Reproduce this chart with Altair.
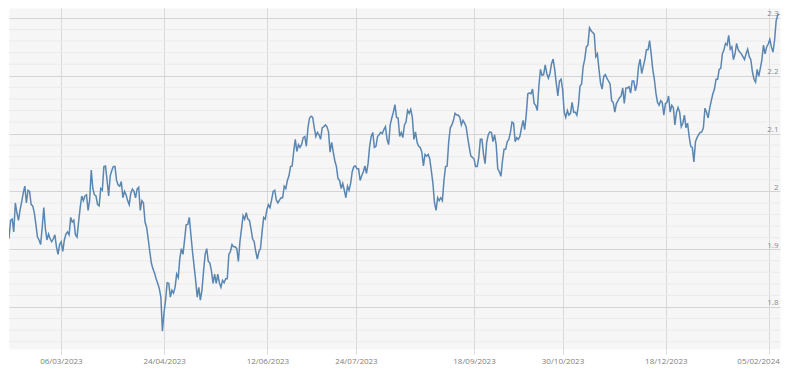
import altair as alt
import pandas as pd

# Daily values, in chronological pieces
feb_mar_2023 = [
    1.918, 1.950, 1.952, 1.930, 1.980, 1.963, 1.950, 1.968, 1.982, 1.997,
    2.009, 1.980, 2.002, 2.000, 1.977, 1.975, 1.963, 1.943, 1.921, 1.916,
    1.908, 1.938, 1.972, 1.935, 1.916, 1.926, 1.918, 1.913, 1.918, 1.925,
    1.904, 1.891, 1.908, 1.913, 1.896, 1.916, 1.926, 1.930, 1.925, 1.955,
    1.947, 1.950, 1.925, 1.921, 1.947, 1.972, 1.992, 1.984, 1.992, 1.994,
    1.967, 1.985, 2.037, 2.005, 1.994, 1.992, 1.977, 1.975, 2.005, 2.002,
    2.043, 2.044, 2.019, 1.992, 2.027, 2.036, 2.043,
]
apr_may_2023 = [
    2.043, 2.019, 2.011, 2.009, 2.017, 1.989, 2.000, 1.994, 1.984, 1.977,
    1.997, 2.004, 2.000, 1.989, 2.004, 2.007, 1.967, 1.984, 1.980, 1.947,
    1.938, 1.918, 1.896, 1.876, 1.866, 1.859, 1.849, 1.841, 1.832, 1.817,
    1.758, 1.790, 1.812, 1.842, 1.841, 1.817, 1.829, 1.824, 1.834, 1.857,
    1.851, 1.884, 1.901, 1.891, 1.916, 1.942, 1.943, 1.955, 1.925, 1.896,
    1.871, 1.846, 1.817, 1.834, 1.812, 1.829, 1.862, 1.891, 1.901, 1.879,
    1.876, 1.862, 1.841, 1.857, 1.841, 1.857, 1.842, 1.834, 1.846, 1.842,
    1.849, 1.849,
]
may_jul_2023 = [
    1.891, 1.896, 1.908, 1.904, 1.904, 1.901, 1.879, 1.913, 1.935, 1.958,
    1.952, 1.963, 1.952, 1.950, 1.935, 1.918, 1.913, 1.896, 1.883, 1.896,
    1.901, 1.930, 1.955, 1.952, 1.968, 1.977, 1.972, 1.985, 2.000, 2.002,
    1.985, 1.980, 1.985, 1.989, 1.989, 2.009, 2.005, 2.019, 2.027, 2.043,
    2.044, 2.069, 2.090, 2.069, 2.081, 2.076, 2.081, 2.093, 2.095, 2.078,
    2.110, 2.127, 2.130, 2.128, 2.110, 2.095, 2.102, 2.098, 2.090, 2.110,
    2.112, 2.115, 2.112, 2.103, 2.068, 2.085, 2.068, 2.053,
]
jul_sep_2023 = [
    2.043, 2.022, 2.019, 2.005, 2.014, 2.002, 1.989, 2.009, 2.002, 2.014,
    2.034, 2.043, 2.044, 2.039, 2.039, 2.019, 2.027, 2.034, 2.044, 2.031,
    2.048, 2.078, 2.095, 2.102, 2.076, 2.078, 2.095, 2.098, 2.102, 2.100,
    2.107, 2.112, 2.090, 2.081, 2.115, 2.127, 2.137, 2.150, 2.128, 2.127,
    2.095, 2.102, 2.093, 2.115, 2.120, 2.140, 2.135, 2.142, 2.128, 2.090,
    2.103, 2.085, 2.078, 2.076, 2.068, 2.044, 2.064, 2.061, 2.064, 2.056,
    2.036, 2.014, 1.980, 1.967, 1.989, 1.984, 1.989, 1.984,
]
sep_oct_2023 = [
    2.019, 2.043, 2.044, 2.086, 2.110, 2.115, 2.123, 2.135, 2.132, 2.132,
    2.128, 2.115, 2.123, 2.118, 2.112, 2.093, 2.076, 2.061, 2.059, 2.056,
    2.043, 2.043, 2.059, 2.090, 2.090, 2.064, 2.048, 2.085, 2.098, 2.103,
    2.102, 2.086, 2.098, 2.081, 2.039, 2.034, 2.026, 2.053, 2.073, 2.073,
    2.086, 2.090, 2.102, 2.120, 2.118, 2.086, 2.093, 2.090, 2.095, 2.110,
    2.123, 2.107, 2.132, 2.169, 2.170, 2.169, 2.177, 2.152, 2.149, 2.140,
    2.182, 2.211, 2.201, 2.202, 2.219, 2.204, 2.196,
]
nov_dec_2023 = [
    2.204, 2.221, 2.229, 2.211, 2.187, 2.165, 2.191, 2.194, 2.177, 2.137,
    2.128, 2.140, 2.132, 2.135, 2.154, 2.137, 2.137, 2.132, 2.149, 2.182,
    2.186, 2.216, 2.229, 2.250, 2.253, 2.283, 2.278, 2.275, 2.272, 2.233,
    2.238, 2.211, 2.187, 2.177, 2.199, 2.202, 2.196, 2.191, 2.186, 2.157,
    2.154, 2.137, 2.152, 2.157, 2.162, 2.165, 2.179, 2.152, 2.179, 2.179,
    2.181, 2.170, 2.191, 2.191, 2.174, 2.186, 2.216, 2.229, 2.204, 2.216,
    2.228, 2.245, 2.245, 2.261, 2.238, 2.211, 2.194, 2.170, 2.154, 2.149,
]
dec_feb_2024 = [
    2.157, 2.154, 2.132, 2.152, 2.154, 2.165, 2.137, 2.149, 2.145, 2.115,
    2.137, 2.145, 2.137, 2.112, 2.118, 2.132, 2.110, 2.118, 2.095, 2.078,
    2.076, 2.051, 2.086, 2.093, 2.098, 2.102, 2.103, 2.110, 2.144, 2.137,
    2.127, 2.144, 2.157, 2.169, 2.177, 2.194, 2.194, 2.211, 2.213, 2.238,
    2.245, 2.256, 2.253, 2.270, 2.246, 2.250, 2.228, 2.238, 2.256, 2.245,
    2.241, 2.238, 2.233, 2.228, 2.238, 2.246, 2.233, 2.228, 2.207, 2.194,
    2.189, 2.211, 2.199, 2.213, 2.228, 2.253, 2.238, 2.250, 2.255, 2.263,
    2.250, 2.241, 2.261, 2.295, 2.305, 2.307,
]

values = (feb_mar_2023 + apr_may_2023 + may_jul_2023 + jul_sep_2023
          + sep_oct_2023 + nov_dec_2023 + dec_feb_2024)

first_date = "2023-02-09 09:20"
last_date = "2024-02-09 20:25"
dates = pd.date_range(first_date, last_date, periods=len(values))
df = pd.DataFrame({"date": dates, "value": values})

tick_labels = ["06/03/2023", "24/04/2023", "12/06/2023", "24/07/2023",
               "18/09/2023", "30/10/2023", "18/12/2023", "05/02/2024"]
tick_dates = [alt.DateTime(year=int(s[6:]), month=int(s[3:5]), date=int(s[:2]))
              for s in tick_labels]

major_ticks = [1.8, 1.9, 2.0, 2.1, 2.2, 2.3]
minor_ticks = [round(1.72 + 0.02 * i, 2) for i in range(1, 30) if i % 5 != 4]

W, H = 771, 341

xscale = alt.Scale(
    domain=[alt.DateTime(year=2023, month=2, date=9, hours=9, minutes=20),
            alt.DateTime(year=2024, month=2, date=10, hours=4, minutes=20)],
    nice=False,
)
yscale = alt.Scale(domain=[1.7273, 2.3173], nice=False, zero=False)

y_axis = alt.Axis(
    values=major_ticks, format="~g", orient="right", title=None,
    grid=True, gridColor="#d4d4d4", domain=False, ticks=False, tickSize=0,
    labelAlign="right", labelBaseline="alphabetic",
    labelPadding=-2, labelOffset=-2, labelOverlap=False,
    labelFont="Open Sans", labelFontSize=8, labelColor="#8a8a8a",
)

minor = alt.Chart(pd.DataFrame({"tick": minor_ticks})).mark_rule(
    color="#ebebeb", strokeWidth=1
).encode(y=alt.Y("tick:Q", scale=yscale, axis=y_axis))

line = alt.Chart(df).mark_line(
    color="#5a86b2", strokeWidth=1.5, clip=True
).encode(
    x=alt.X(
        "date:T",
        scale=xscale,
        axis=alt.Axis(
            values=tick_dates, format="%d/%m/%Y", title=None,
            grid=True, gridColor="#d9d9d9", domain=False,
            ticks=True, tickSize=5, tickColor="#d9d9d9",
            labelFont="Open Sans", labelFontSize=8, labelColor="#808080",
            labelPadding=3, labelFlush=False, labelOverlap=False, labelAngle=0,
            labelOffset={"condition": {"test": "year(datum.value) == 2024", "value": -11},
                         "value": 0},
        ),
    ),
    y=alt.Y("value:Q", scale=yscale, axis=y_axis),
)

chart = alt.layer(minor, line).properties(
    width=W, height=H,
    padding={"left": 0, "top": 0, "right": 0, "bottom": 0},
    background="white",
).configure_view(fill="#f6f6f6", stroke="transparent")

chart.save("out.html", embed_options={"renderer": "svg", "actions": False})
